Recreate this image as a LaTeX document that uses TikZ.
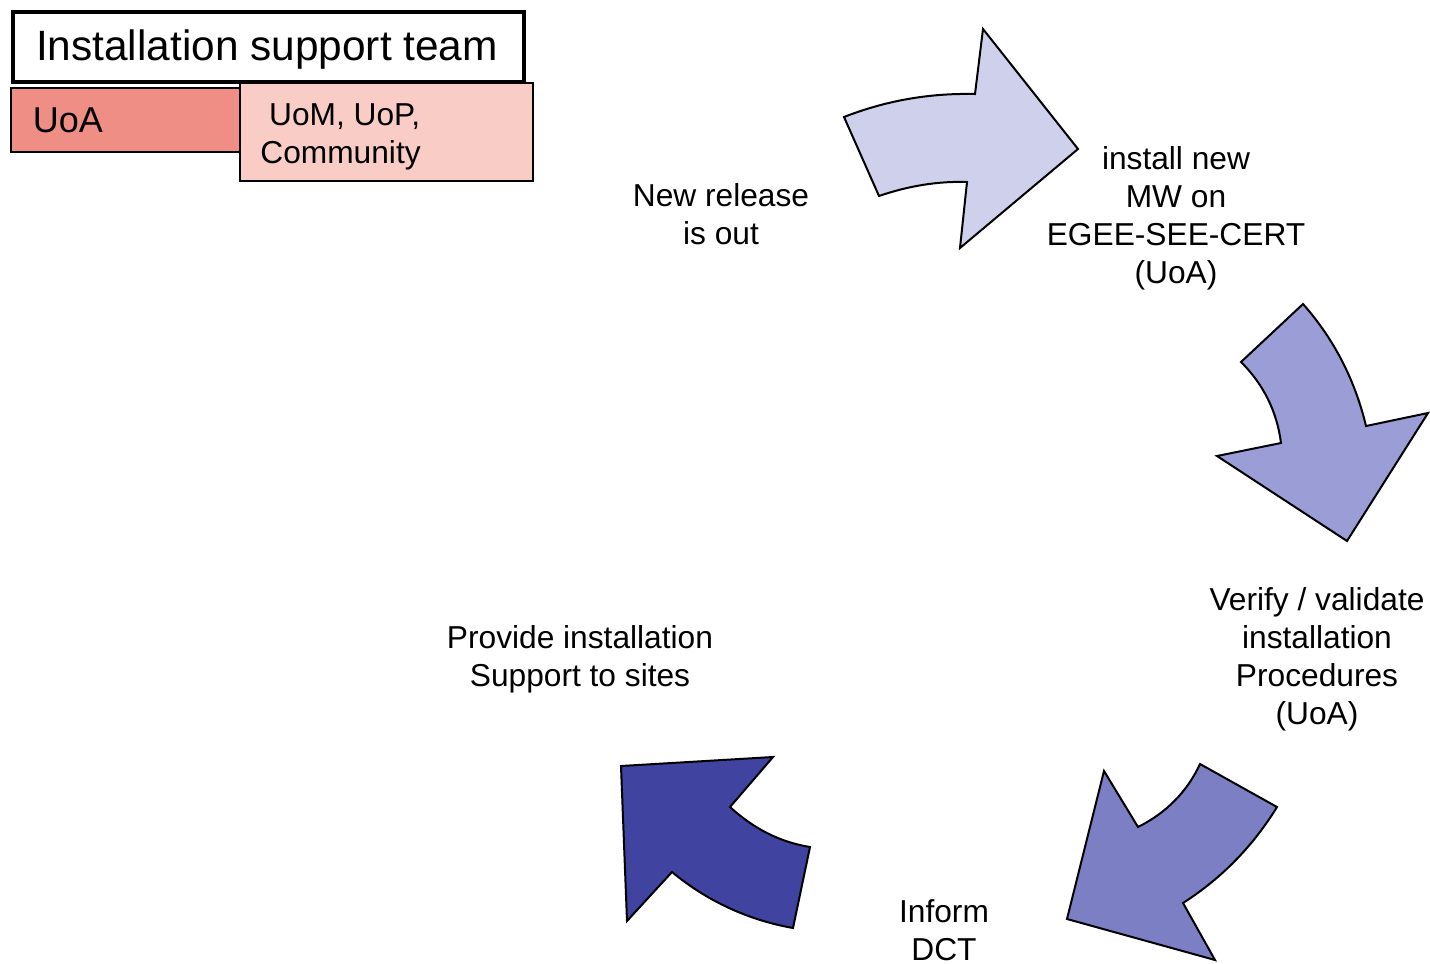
\documentclass[tikz,border=0pt]{standalone}
\usepackage{fontspec}
\setmainfont{Liberation Sans}
\begin{document}
\begin{tikzpicture}[x=0.5pt,y=-0.5pt,
  lbl/.style={inner sep=0pt,align=center,font=\fontsize{15.85}{19}\selectfont},
  cyclearrow/.style={draw=black,line width=1pt,line join=miter},
  teambox/.style={draw=black,line width=2pt},
  partbox/.style={draw=black,line width=1pt}]
\definecolor{arrowA}{RGB}{206,208,236}
\definecolor{arrowB}{RGB}{154,157,214}
\definecolor{arrowC}{RGB}{124,127,196}
\definecolor{arrowD}{RGB}{64,67,160}
\definecolor{uoafill}{RGB}{238,142,132}
\definecolor{uomfill}{RGB}{250,204,198}
\useasboundingbox (0,0) rectangle (1430,964);

% legend
\draw[teambox,fill=white] (13,12) rectangle (524,82);
\node[inner sep=0pt,font=\fontsize{21.2}{25}\selectfont] (team) at (267,50) {Installation support team};
\draw[partbox,fill=uoafill] (11,88) rectangle (240,152);
\node[inner sep=0pt,font=\fontsize{18}{21}\selectfont] (uoa) at (68,120) {UoA};
\draw[partbox,fill=uomfill] (240,83) rectangle (533,181);
\node[lbl,align=left,anchor=west] (uom) at (260,137) {\hspace*{0.278em}UoM, UoP,\\Community};

% cycle of curved arrows
\draw[cyclearrow,fill=arrowA] (844,117) -- (879,196) .. controls (908,186) and (938,181) .. (967,182)
  -- (960,248) -- (1078,149) -- (983,29) -- (975,94) .. controls (928,93) and (885,101) .. cycle;
\draw[cyclearrow,fill=arrowB] (1303,304) -- (1241,362) .. controls (1264,385) and (1277,412) .. (1281,443)
  -- (1217,456) -- (1347,541) -- (1428,413) -- (1366,426) .. controls (1355,380) and (1334,339) .. cycle;
\draw[cyclearrow,fill=arrowC] (1200,764) -- (1277,807) .. controls (1253,846) and (1222,878) .. (1183,903)
  -- (1215,960) -- (1067,919) -- (1104,771) -- (1138,827) .. controls (1166,813) and (1187,792) .. cycle;
\draw[cyclearrow,fill=arrowD] (810,847) -- (793,928) .. controls (748,920) and (707,901) .. (672,872)
  -- (627,921) -- (621,766) -- (773,757) -- (730,807) .. controls (753,828) and (779,842) .. cycle;

% step labels
\node[lbl] (release) at (721,214) {New release\\is out};
\node[lbl] (install) at (1176,218) {install new\\MW on\\EGEE-SEE-CERT\\(UoA)};
\node[lbl] (verify) at (1317,659.5) {Verify / validate\\installation\\Procedures\\(UoA)};
\node[lbl] (inform) at (944,930) {Inform\\DCT};
\node[lbl] (provide) at (580,659.5) {Provide installation\\Support to sites};
\end{tikzpicture}
\end{document}
